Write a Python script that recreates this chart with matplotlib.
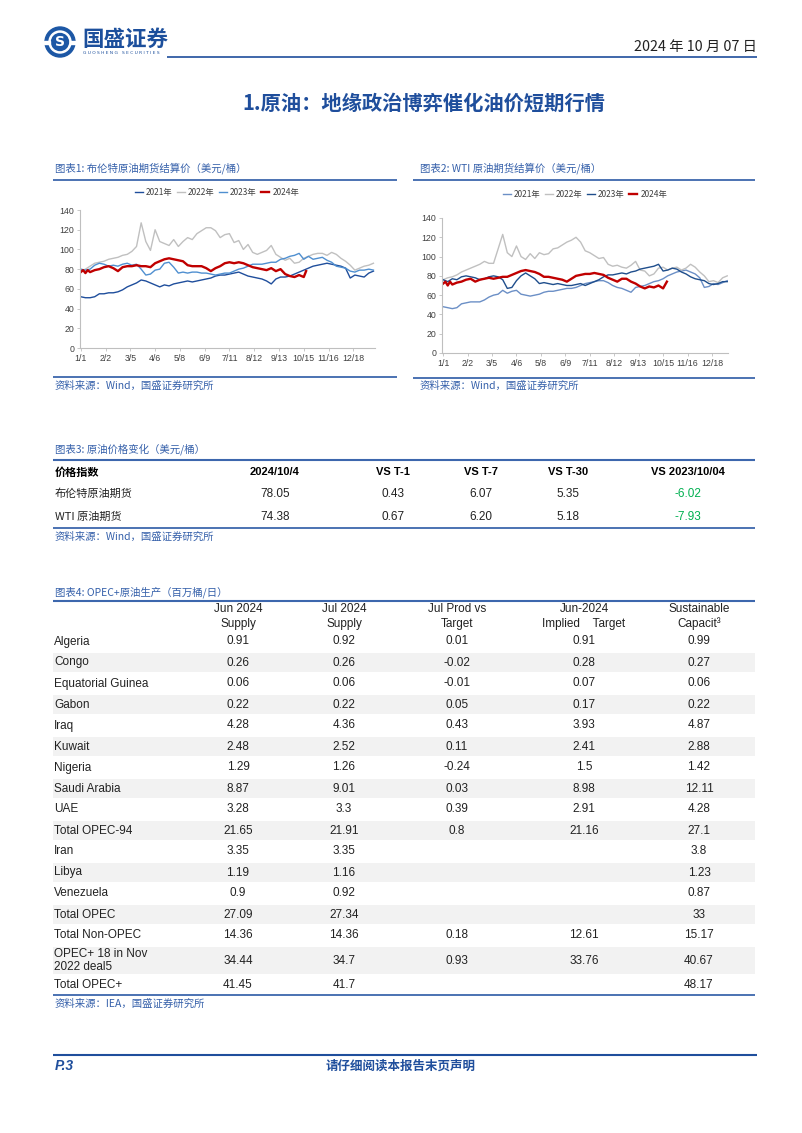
import matplotlib
matplotlib.use('Agg')
import matplotlib.pyplot as plt
from matplotlib.patches import Circle, Rectangle

plt.rcParams['font.family'] = ['Liberation Sans', 'Noto Sans CJK SC']

# ---------------- data: chart 1 (Brent) ----------------
tick_days = [0, 32, 64, 96, 128, 160, 192, 224, 256, 288, 320, 352]
tick_labels = ['1/1', '2/2', '3/5', '4/6', '5/8', '6/9', '7/11', '8/12', '9/13', '10/15', '11/16', '12/18']
series_names = ['2021年', '2022年', '2023年', '2024年']

brent_days = list(range(0, 379, 6))
brent_2021 = [52, 51, 51, 52, 55, 55, 56, 56, 57, 59, 62, 64, 66, 69, 68, 66, 64, 62, 64, 63,
              65, 66, 67, 68, 67, 68, 69, 70, 71, 73, 74, 74, 75, 76, 77, 75, 73, 72, 71, 70,
              68, 65, 70, 72, 72, 73, 75, 77, 79, 81, 83, 84, 85, 86, 85, 84, 83, 81, 71, 74,
              73, 72, 76, 78]
brent_2022 = [78, 80, 83, 86, 87, 88, 90, 91, 92, 94, 95, 98, 103, 127, 108, 99, 120, 108, 106, 104,
              110, 103, 108, 112, 110, 116, 119, 122, 122, 119, 112, 115, 116, 107, 109, 100, 105, 97, 95, 97,
              99, 104, 95, 92, 89, 91, 86, 87, 91, 93, 95, 96, 96, 94, 97, 95, 91, 88, 84, 79,
              81, 83, 84, 86]
brent_2023 = [80, 79, 80, 84, 86, 85, 83, 84, 83, 85, 86, 84, 85, 80, 74, 75, 79, 80, 86, 87,
              82, 76, 77, 76, 77, 77, 76, 76, 75, 74, 75, 76, 76, 78, 80, 81, 83, 85, 85, 85,
              86, 87, 87, 90, 91, 93, 94, 96, 90, 93, 90, 91, 92, 89, 87, 83, 82, 81, 78, 77,
              79, 79, 80, 79]
brent_2024_days = [0, 3, 6, 9, 12, 18, 24, 30, 36, 42, 48, 54, 60, 66, 72, 78, 84, 90, 96, 102,
                   108, 114, 120, 126, 132, 138, 144, 150, 156, 162, 168, 174, 180, 186, 192, 198,
                   204, 210, 216, 222, 228, 234, 240, 246, 252, 258, 264, 270, 276, 282, 288, 291]
brent_2024 = [77, 79, 76, 79, 77, 79, 80, 82, 83, 81, 78, 82, 83, 83, 84, 83, 83, 82, 86, 88,
              90, 91, 90, 89, 88, 84, 83, 83, 83, 81, 78, 81, 83, 86, 87, 86,
              87, 86, 84, 82, 81, 80, 79, 81, 78, 80, 75, 73, 72, 74, 72, 78]

# ---------------- data: chart 2 (WTI) ----------------
wti_days = list(range(0, 373, 6))
wti_2021 = [48, 47, 46, 47, 51, 52, 53, 53, 53, 55, 58, 60, 61, 65, 62, 64, 65, 61, 60, 59,
            60, 61, 63, 64, 64, 65, 66, 67, 67, 68, 70, 72, 73, 74, 75, 75, 73, 70, 68, 67,
            65, 63, 68, 69, 70, 72, 74, 75, 77, 80, 82, 84, 85, 86, 84, 82, 78, 68, 69, 72,
            71, 73, 75]
wti_2022 = [76, 78, 79, 81, 84, 86, 88, 90, 92, 95, 93, 93, 108, 123, 104, 100, 111, 100, 97, 103,
            98, 104, 102, 103, 108, 109, 112, 115, 117, 120, 115, 106, 104, 101, 98, 99, 92, 90, 91, 89,
            88, 91, 95, 86, 85, 80, 82, 88, 89, 86, 88, 89, 86, 88, 92, 89, 84, 80, 74, 75,
            73, 78, 80]
wti_2023 = [76, 74, 77, 76, 79, 80, 79, 78, 76, 77, 79, 80, 79, 76, 67, 68, 75, 80, 83, 80,
            77, 72, 73, 72, 71, 72, 71, 70, 70, 71, 72, 70, 72, 74, 76, 79, 81, 81, 82, 83,
            82, 84, 85, 87, 88, 89, 90, 92, 85, 86, 88, 87, 84, 82, 79, 77, 76, 75, 72, 71,
            72, 74, 74]
wti_2024_days = [0, 3, 6, 9, 12, 18, 24, 30, 36, 42, 48, 54, 60, 66, 72, 78, 84, 90, 96, 102,
                 108, 114, 120, 126, 132, 138, 144, 150, 156, 162, 168, 174, 180, 186, 192, 198,
                 204, 210, 216, 222, 228, 234, 240, 246, 252, 258, 264, 270, 276, 282, 288, 293]
wti_2024 = [72, 74, 70, 74, 71, 73, 74, 76, 77, 74, 76, 77, 78, 77, 78, 79, 79, 81, 83, 85,
            86, 85, 84, 82, 79, 79, 78, 77, 76, 74, 77, 80, 81, 82, 82, 83,
            82, 81, 78, 76, 74, 77, 77, 74, 72, 69, 67, 69, 68, 70, 67, 74]

# ---------------- data: table 3 ----------------
t3_header = ['价格指数', '2024/10/4', 'VS T-1', 'VS T-7', 'VS T-30', 'VS 2023/10/04']
t3_rows = ['布伦特原油期货', 'WTI 原油期货']
t3_price = [78.05, 74.38]
t3_t1 = [0.43, 0.67]
t3_t7 = [6.07, 6.20]
t3_t30 = [5.35, 5.18]
t3_yoy = [-6.02, -7.93]

# ---------------- data: table 4 ----------------
t4_header1 = ['Jun 2024', 'Jul 2024', 'Jul Prod vs', 'Jun-2024', 'Sustainable']
t4_header2 = ['Supply', 'Supply', 'Target', 'Implied    Target', 'Capacit\u00b3']
t4_countries = ['Algeria', 'Congo', 'Equatorial Guinea', 'Gabon', 'Iraq', 'Kuwait', 'Nigeria',
                'Saudi Arabia', 'UAE', 'Total OPEC-94', 'Iran', 'Libya', 'Venezuela', 'Total OPEC',
                'Total Non-OPEC', 'OPEC+ 18 in Nov\n2022 deal5', 'Total OPEC+']
t4_jun_supply = [0.91, 0.26, 0.06, 0.22, 4.28, 2.48, 1.29, 8.87, 3.28, 21.65, 3.35, 1.19, 0.9,
                 27.09, 14.36, 34.44, 41.45]
t4_jul_supply = [0.92, 0.26, 0.06, 0.22, 4.36, 2.52, 1.26, 9.01, 3.3, 21.91, 3.35, 1.16, 0.92,
                 27.34, 14.36, 34.7, 41.7]
t4_vs_target = [0.01, -0.02, -0.01, 0.05, 0.43, 0.11, -0.24, 0.03, 0.39, 0.8, None, None, None,
                None, 0.18, 0.93, None]
t4_implied = [0.91, 0.28, 0.07, 0.17, 3.93, 2.41, 1.5, 8.98, 2.91, 21.16, None, None, None,
              None, 12.61, 33.76, None]
t4_capacity = [0.99, 0.27, 0.06, 0.22, 4.87, 2.88, 1.42, 12.11, 4.28, 27.1, 3.8, 1.23, 0.87,
               33, 15.17, 40.67, 48.17]

# ---------------- layout ----------------
W, H = 802, 1133
fig = plt.figure(figsize=(W / 100, H / 100), dpi=100)
page = fig.add_axes([0, 0, 1, 1])
page.set_xlim(0, W)
page.set_ylim(H, 0)
page.axis('off')

BLUE = '#1f4e9c'
CAPBLUE = '#3560aa'
LINEBLUE = '#3d67ad'
CJK = ['Noto Sans CJK SC', 'DejaVu Sans']
NUM = ['Liberation Sans', 'Noto Sans CJK SC']


def hline(x0, x1, y, color=LINEBLUE, lw=1.3):
    page.plot([x0, x1], [y, y], color=color, lw=lw, solid_capstyle='butt')


# header
page.add_patch(Circle((60, 42), 15, color='#1c57a5'))
page.add_patch(Circle((60, 42), 11, color='white'))
page.add_patch(Circle((60, 42), 8.5, color='#1c57a5'))
page.text(60, 42.5, 'S', color='white', fontsize=10, fontweight='bold', ha='center', va='center',
          family=['DejaVu Sans'])
page.add_patch(Rectangle((44, 41), 6, 2.5, color='white'))
page.add_patch(Rectangle((70, 41), 6, 2.5, color='white'))
page.text(82, 39, '国盛证券', fontsize=15.5, fontweight='bold', color='#1c4f9c', va='center', family=CJK)
page.text(83, 53, 'G U O S H E N G   S E C U R I T I E S', fontsize=3.2, color='#1c4f9c', va='center',
          family=['DejaVu Sans'])
hline(167, 757, 57, color=BLUE, lw=1.2)
page.text(757, 47, '2024 年 10 月 07 日', ha='right', va='center', fontsize=10.3, color='#222222', family=CJK)

page.text(424, 103, '1.原油：地缘政治博弈催化油价短期行情', ha='center', va='center', fontsize=14.6,
          fontweight='bold', color=BLUE, family=CJK)

# chart captions & source lines
page.text(55, 168, '图表1: 布伦特原油期货结算价（美元/桶）', fontsize=7.5, color=CAPBLUE, va='center', family=CJK)
hline(53, 397, 180)
page.text(420, 168, '图表2: WTI 原油期货结算价（美元/桶）', fontsize=7.5, color=CAPBLUE, va='center', family=CJK)
hline(413, 755, 180)
hline(53, 397, 377)
hline(413, 755, 378)
page.text(55, 386, '资料来源：Wind，国盛证券研究所', fontsize=7.5, color=CAPBLUE, va='center', family=CJK)
page.text(420, 386, '资料来源：Wind，国盛证券研究所', fontsize=7.5, color=CAPBLUE, va='center', family=CJK)


def px_axes(l, t, r, b):
    return fig.add_axes([l / W, 1 - b / H, (r - l) / W, (b - t) / H])


def style_chart(ax, xmax, x0):
    ax.set_xlim(x0, xmax)
    ax.set_ylim(0, 140)
    ax.set_yticks(range(0, 141, 20))
    ax.set_xticks(tick_days)
    ax.set_xticklabels(tick_labels)
    for s in ['top', 'right']:
        ax.spines[s].set_visible(False)
    for s in ['left', 'bottom']:
        ax.spines[s].set_color('#bfbfbf')
        ax.spines[s].set_linewidth(0.8)
    ax.tick_params(axis='both', labelsize=6.3, colors='#bfbfbf', labelcolor='#404040', length=2, width=0.6, pad=2)
    ax.patch.set_alpha(0)


def legend(ax, lines, cx, cy):
    ax.legend(lines, series_names, loc='center', bbox_to_anchor=(cx / W, 1 - cy / H),
              bbox_transform=fig.transFigure, ncol=4, frameon=False,
              handlelength=0.95, handletextpad=0.35, columnspacing=0.55,
              prop={'family': CJK, 'size': 6}, labelcolor='#404040')


ax1 = px_axes(80, 210, 375, 348)
style_chart(ax1, 380, -1)
c1 = ['#1f4e9c', '#c0c0c0', '#4f8fd0', '#c00000']
l1 = []
l1 += ax1.plot(brent_days, brent_2021, color=c1[0], lw=1.0)
l1 += ax1.plot(brent_days, brent_2022, color=c1[1], lw=1.0)
l1 += ax1.plot(brent_days, brent_2023, color=c1[2], lw=1.0)
l1 += ax1.plot(brent_2024_days, brent_2024, color=c1[3], lw=1.7)
legend(ax1, l1, 217, 192)

ax2 = px_axes(442, 218, 728, 353)
style_chart(ax2, 373, -1.5)
c2 = ['#6b8fc6', '#c0c0c0', '#1f4e8c', '#c00000']
l2 = []
l2 += ax2.plot(wti_days, wti_2021, color=c2[0], lw=1.0)
l2 += ax2.plot(wti_days, wti_2022, color=c2[1], lw=1.0)
l2 += ax2.plot(wti_days, wti_2023, color=c2[2], lw=1.0)
l2 += ax2.plot(wti_2024_days, wti_2024, color=c2[3], lw=1.7)
legend(ax2, l2, 585, 194)

# ---------------- table 3 ----------------
page.text(55, 449, '图表3: 原油价格变化（美元/桶）', fontsize=7.5, color=CAPBLUE, va='center', family=CJK)
hline(53, 755, 460, lw=1.5)
t3_x = [55, 275, 393, 481, 568, 688]
page.text(t3_x[0], 472, t3_header[0], fontsize=8, fontweight='bold', va='center', family=CJK)
for x, h in zip(t3_x[1:], t3_header[1:]):
    page.text(x, 472, h, fontsize=8, fontweight='bold', va='center', ha='center', family=['Liberation Sans'])
for i, name in enumerate(t3_rows):
    y = 494 + i * 23
    page.text(t3_x[0], y, name, fontsize=8, va='center', family=CJK, color='#222222')
    vals = [f'{t3_price[i]:.2f}', f'{t3_t1[i]:.2f}', f'{t3_t7[i]:.2f}', f'{t3_t30[i]:.2f}']
    for x, v in zip(t3_x[1:5], vals):
        page.text(x, y, v, fontsize=8.5, va='center', ha='center', family=NUM, color='#222222')
    page.text(t3_x[5], y, f'{t3_yoy[i]:.2f}', fontsize=8.5, va='center', ha='center', family=NUM,
              color='#00b050')
hline(53, 755, 528, lw=1.3)
page.text(55, 537, '资料来源：Wind，国盛证券研究所', fontsize=7.5, color=CAPBLUE, va='center', family=CJK)

# ---------------- table 4 ----------------
page.text(55, 592, '图表4: OPEC+原油生产（百万桶/日）', fontsize=7.5, color=CAPBLUE, va='center', family=CJK)
hline(53, 755, 601, lw=1.5)
t4_x = [238, 344, 457, 584, 699]
for x, a, b in zip(t4_x, t4_header1, t4_header2):
    page.text(x, 609, a, fontsize=8.5, ha='center', va='center', family=NUM, color='#222222')
    page.text(x, 624, b, fontsize=8.5, ha='center', va='center', family=NUM, color='#222222')

row_tops = [631 + 21 * i for i in range(15)] + [946, 975]
row_bots = row_tops[1:] + [995]
cols = [t4_jun_supply, t4_jul_supply, t4_vs_target, t4_implied, t4_capacity]
for i, name in enumerate(t4_countries):
    top, bot = row_tops[i], row_bots[i]
    if i % 2 == 1:
        page.add_patch(Rectangle((53, top + 1), 702, bot - top - 2, color='#f2f2f2', lw=0))
    yc = (top + bot) / 2
    page.text(54, yc, name, fontsize=8.5, va='center', family=NUM, color='#222222', linespacing=1.15)
    for x, col in zip(t4_x, cols):
        v = col[i]
        if v is not None:
            page.text(x, yc, f'{v:g}', fontsize=8.5, ha='center', va='center', family=NUM, color='#222222')
hline(53, 755, 995, lw=1.3)
page.text(55, 1004, '资料来源：IEA，国盛证券研究所', fontsize=7.5, color=CAPBLUE, va='center', family=CJK)

# footer
hline(53, 757, 1055, color=BLUE, lw=1.5)
page.text(55, 1066, 'P.3', fontsize=10, fontweight='bold', style='italic', color=BLUE, va='center')
page.text(401, 1066, '请仔细阅读本报告末页声明', fontsize=9, fontweight='bold', color=BLUE, va='center',
          ha='center', family=CJK)

fig.savefig('out.png', dpi=100)
